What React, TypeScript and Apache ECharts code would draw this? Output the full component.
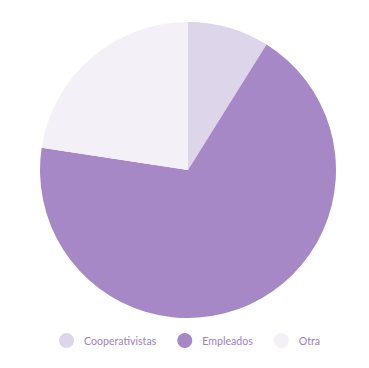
import React, { useEffect, useRef } from "react";
import * as echarts from "echarts";

const categories = ["Cooperativistas", "Empleados", "Otra"];
const values = [8.9, 68.5, 22.6];
const colors = ["#ddd5ea", "#a688c6", "#f3f0f7"];

export default function App() {
  const ref = useRef<HTMLDivElement>(null);
  useEffect(() => {
    const chart = echarts.init(ref.current!, null, { renderer: "svg" });
    chart.setOption({
      animation: false,
      color: colors,
      legend: {
        bottom: 15,
        left: 54,
        icon: "circle",
        itemWidth: 15,
        itemHeight: 15,
        itemGap: 21,
        textStyle: {
          color: "#a080c8",
          fontSize: 10.6,
          fontFamily: "Lato",
          padding: [0, 0, 0, 5],
        },
        data: categories,
      },
      series: [
        {
          type: "pie",
          center: [188, 170],
          radius: 148,
          startAngle: 90,
          clockwise: true,
          label: { show: false },
          labelLine: { show: false },
          itemStyle: { borderWidth: 0 },
          data: categories.map((c, i) => ({ name: c, value: values[i] })),
        },
      ],
    });
    return () => chart.dispose();
  }, []);
  return (
    <div
      ref={ref}
      style={{ position: "absolute", left: 0, top: 0, width: 369, height: 368 }}
    />
  );
}
